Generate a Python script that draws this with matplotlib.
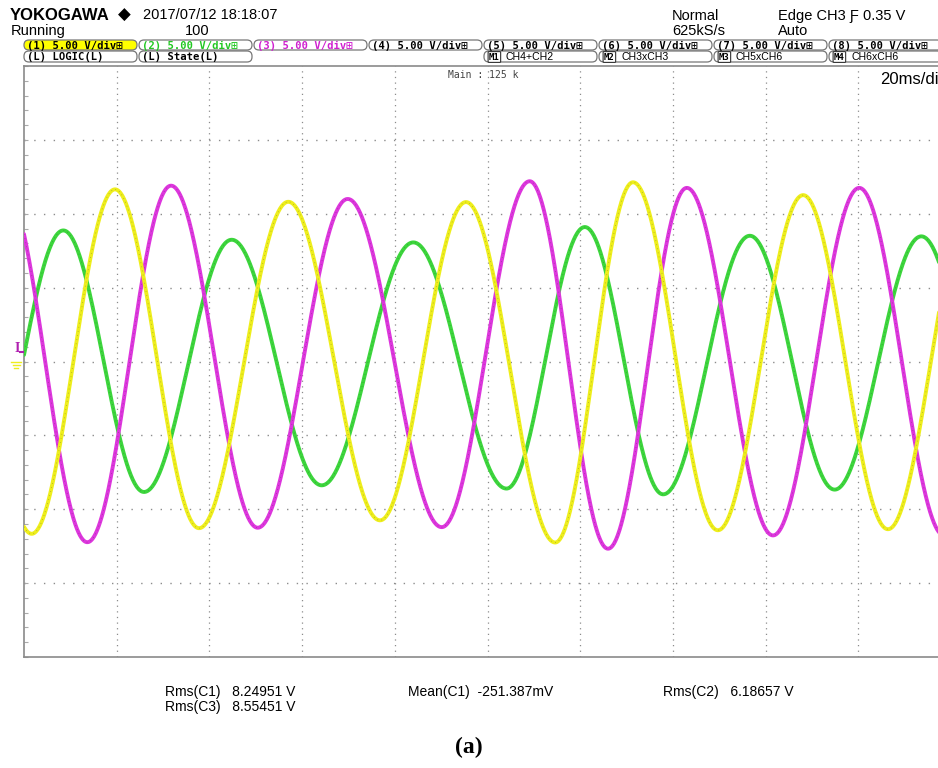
"""
Three-phase output voltage capture, redrawn as a Yokogawa scope screen
"""

import matplotlib as mpl
import matplotlib.pyplot as plt
import numpy as np
from matplotlib.patches import FancyBboxPatch

mpl.use("Agg")

W, H = 938, 768

# Trace extrema read per channel: time (ms) and level (V), 5 V/div, 20 ms/div
ch1_t = [-16.5, 1.66, 19.63, 37.76, 57.02, 76.81, 95.36, 114.6, 131.4, 149.7, 168.1, 186.4, 205.0]
ch1_v = [11.5, -11.66, 11.65, -11.28, 10.81, -10.75, 10.79, -12.25, 12.13, -11.42, 11.26, -11.35, 11.5]

ch2_t = [-9.0, 8.48, 25.89, 44.81, 64.23, 83.99, 104.1, 121.0, 137.9, 156.6, 174.9, 193.6, 212.0]
ch2_v = [-8.8, 8.87, -8.83, 8.24, -8.38, 8.06, -8.60, 9.10, -8.99, 8.51, -8.67, 8.47, -8.7]

ch3_t = [-4.4, 13.66, 31.72, 50.42, 69.84, 90.12, 109.1, 126.0, 143.0, 161.6, 180.2, 198.6]
ch3_v = [12.0, -12.23, 11.90, -11.25, 11.00, -11.21, 12.20, -12.67, 11.75, -11.77, 11.75, -11.8]

# Measurement readout
meas_labels = ["Rms(C1)", "Rms(C3)", "Mean(C1)", "Rms(C2)"]
meas_values = ["8.24951 V", "8.55451 V", "-251.387mV", "6.18657 V"]

# Channel setup row
ch_names = ["1", "2", "3", "4", "5", "6", "7", "8"]
ch_scale = ["5.00 V/div"] * 8
math_names = ["M1", "M2", "M3", "M4"]
math_defs = ["CH4+CH2", "CH3xCH3", "CH5xCH6", "CH6xCH6"]

c_yel = "#EEEE1C"
c_grn = "#3CD63C"
c_mag = "#DD36DD"
c_frame = "#8A8A8A"


def trace(t_ext, v_ext, t):
    # half-cosine segments between successive peaks and troughs
    t_ext = np.asarray(t_ext)
    v_ext = np.asarray(v_ext)
    out = np.full_like(t, np.nan)
    for i in range(len(t_ext) - 1):
        m = (t >= t_ext[i]) & (t <= t_ext[i + 1])
        ph = (t[m] - t_ext[i]) / (t_ext[i + 1] - t_ext[i])
        mid = (v_ext[i] + v_ext[i + 1]) / 2
        amp = (v_ext[i] - v_ext[i + 1]) / 2
        out[m] = mid + amp * np.cos(np.pi * ph)
    return out


fig = plt.figure(figsize=(W / 100, H / 100), dpi=100)
fig.patch.set_facecolor("white")

# Scope graticule: 10 x 8 divisions, right edge runs off the screen
left, right, top, bottom = 24, 951, 66, 657
ax = fig.add_axes([left / W, 1 - bottom / H, (right - left) / W, (bottom - top) / H])
ax.set_xlim(0, 200)
ax.set_ylim(-20, 20)
for s in ax.spines.values():
    s.set_color(c_frame)
    s.set_linewidth(1.2)
ax.set_xticks([])
ax.set_yticks(np.arange(-20, 20.01, 1.0))
ax.tick_params(axis="y", direction="in", length=3, color="#aaaaaa", labelleft=False)

for x in range(20, 200, 20):
    ax.axvline(x, color="#8c8c8c", lw=0.9, ls=(0, (1, 3.5)), zorder=1)
for y in range(-15, 20, 5):
    ax.axhline(y, color="#8c8c8c", lw=1.0, ls=(0, (1, 6)), zorder=1)

t = np.linspace(0, 200, 4000)
for t_ext, v_ext, col in [(ch2_t, ch2_v, c_grn), (ch3_t, ch3_v, c_mag), (ch1_t, ch1_v, c_yel)]:
    v = trace(t_ext, v_ext, t)
    ax.plot(t, v, color=col, lw=2.8, solid_capstyle="round", zorder=3)
    ax.plot(t, v, color="#333333", lw=0.6, ls=(0, (1, 4)), alpha=0.35, zorder=3)

# Overlay in pixel units for the screen annotations
ov = fig.add_axes([0, 0, 1, 1], facecolor="none")
ov.set_xlim(0, W)
ov.set_ylim(H, 0)
ov.axis("off")

sans = ["Liberation Sans", "DejaVu Sans"]
mono = ["DejaVu Sans Mono", "Noto Sans CJK JP"]

ov.text(10, 16, "YOKOGAWA", fontsize=12, fontweight="bold", family=sans, va="center")
ov.text(118, 15, "\u25c6", fontsize=12, va="center")
ov.text(143, 15, "2017/07/12 18:18:07", fontsize=10.5, family=sans, va="center")
ov.text(11, 31, "Running", fontsize=10.5, family=sans, va="center")
ov.text(185, 31, "100", fontsize=10.5, family=sans, va="center")
ov.text(672, 16, "Normal", fontsize=10.5, family=sans, va="center")
ov.text(672, 31, "625kS/s", fontsize=10.5, family=sans, va="center")
ov.text(778, 16, "Edge CH3 \u0191 0.35 V", fontsize=10.5, family=sans, va="center")
ov.text(778, 31, "Auto", fontsize=10.5, family=sans, va="center")

# Channel boxes
txt_cols = ["black", "#22C822", "#D020D0"] + ["black"] * 5
for i, (n, sc) in enumerate(zip(ch_names, ch_scale)):
    x0 = 24 + 115 * i
    face = "#FFFF00" if i == 0 else "white"
    ov.add_patch(FancyBboxPatch((x0, 40), 113, 10, boxstyle="round,pad=0,rounding_size=5",
                                facecolor=face, edgecolor="#777777", lw=0.9))
    ov.text(x0 + 3, 45.5, "(" + n + ")" + " " + sc + "\u229e", fontsize=7.6, family=mono,
            fontweight="bold", color=txt_cols[i], va="center")

for i, lbl in enumerate(["LOGIC(L)", "State(L)"]):
    x0 = 24 + 115 * i
    ov.add_patch(FancyBboxPatch((x0, 51), 113, 11, boxstyle="round,pad=0,rounding_size=5",
                                facecolor="white", edgecolor="#777777", lw=0.9))
    ov.text(x0 + 3, 57, "(L) " + lbl, fontsize=7.6, family=mono, fontweight="bold", va="center")

for i, (mn, md) in enumerate(zip(math_names, math_defs)):
    x0 = 369 + 115 * (i + 1)
    ov.add_patch(FancyBboxPatch((x0, 51), 113, 11, boxstyle="round,pad=0,rounding_size=5",
                                facecolor="white", edgecolor="#777777", lw=0.9))
    ov.text(x0 + 5, 57, mn, fontsize=6.5, family=mono, fontweight="bold", va="center",
            bbox=dict(boxstyle="round,pad=0.1", facecolor="white", edgecolor="#333333", lw=0.8))
    ov.text(x0 + 22, 57, md, fontsize=7.6, family=sans, va="center")

ov.text(448, 75, "Main : 125 k", fontsize=7, family=mono, color="#444444", va="center")
ov.text(880, 80, "20ms/div", fontsize=12, family=sans, va="center")

# Ground / trigger level markers
ov.text(17, 349, "I", fontsize=10, fontweight="bold", family="Liberation Serif", color="#B020B0",
        ha="center", va="center")
ov.plot([20, 23], [352, 352], color="#B020B0", lw=1.5)
for k, wdt in enumerate([10, 7, 4]):
    ov.plot([16 - wdt / 2, 16 + wdt / 2], [362 + 3 * k, 362 + 3 * k], color=c_yel, lw=1.0)

# Measurement readout
ov.text(165, 692, meas_labels[0] + "   " + meas_values[0], fontsize=10, family=sans, va="center")
ov.text(165, 707, meas_labels[1] + "   " + meas_values[1], fontsize=10, family=sans, va="center")
ov.text(408, 692, meas_labels[2] + "  " + meas_values[2], fontsize=10, family=sans, va="center")
ov.text(663, 692, meas_labels[3] + "   " + meas_values[3], fontsize=10, family=sans, va="center")

ov.text(469, 747, "(a)", fontsize=17, fontweight="bold", family="Liberation Serif",
        ha="center", va="center")

plt.savefig("out.png", dpi=100, facecolor="white")
